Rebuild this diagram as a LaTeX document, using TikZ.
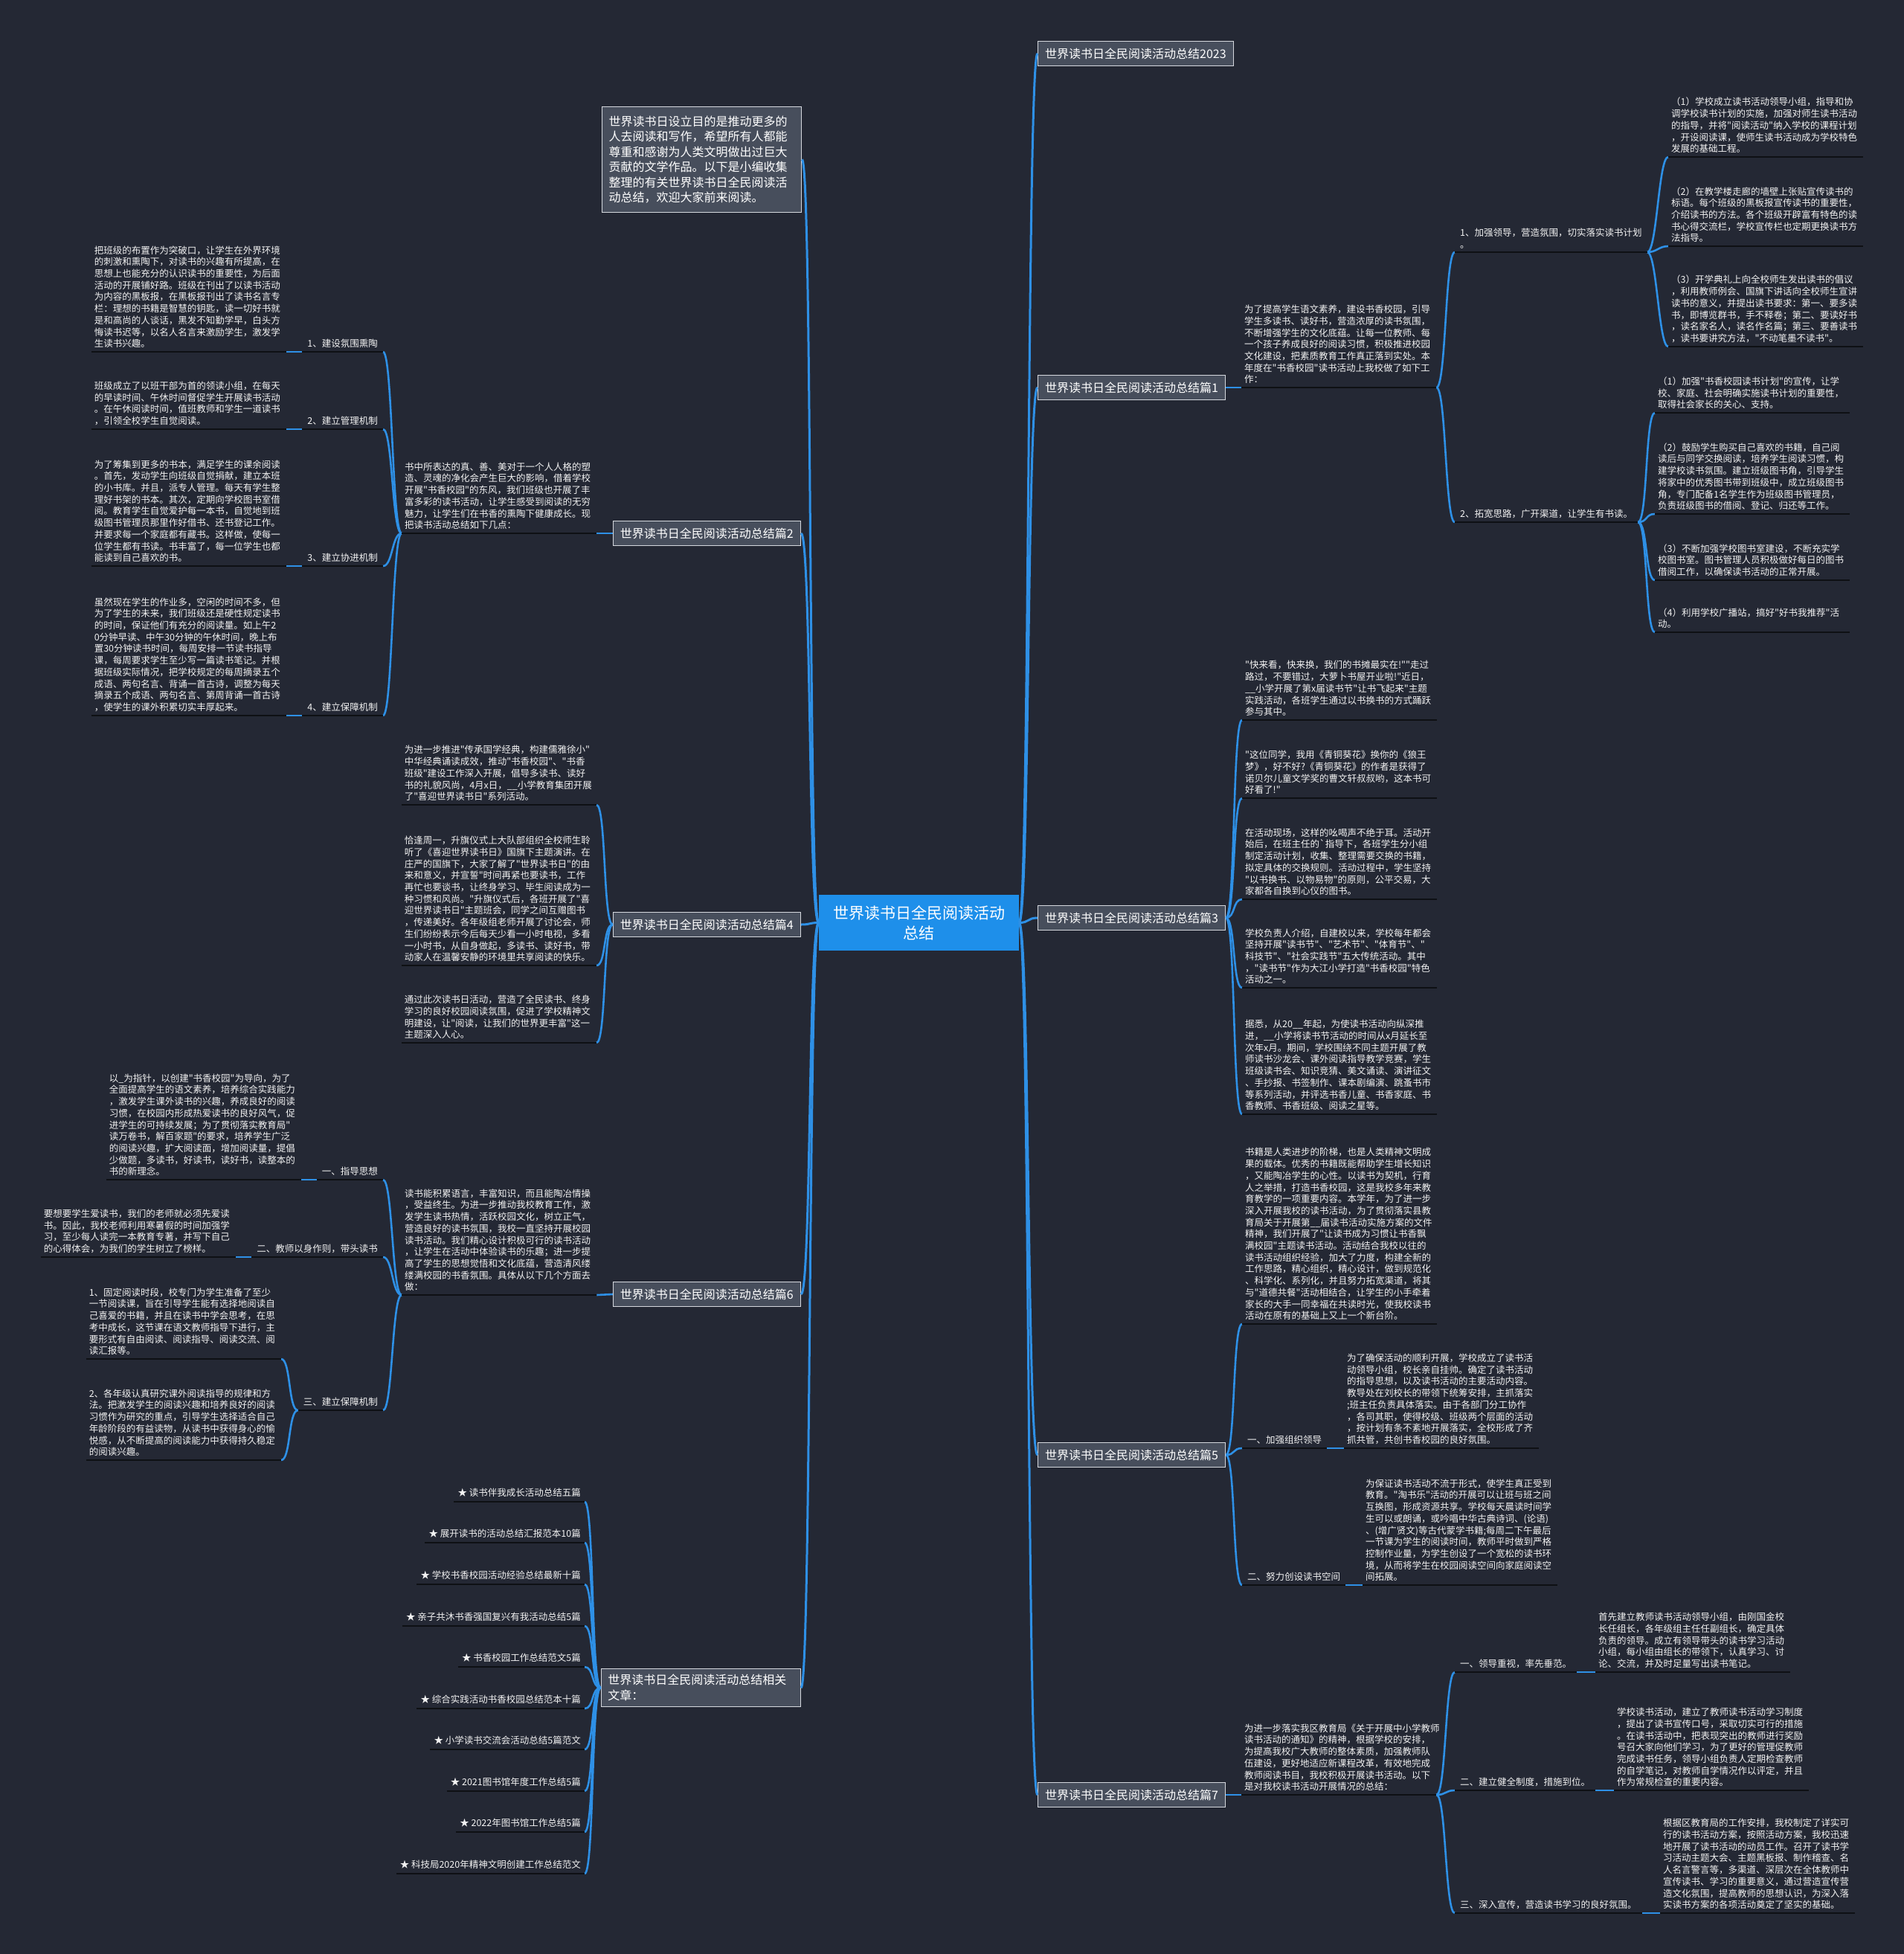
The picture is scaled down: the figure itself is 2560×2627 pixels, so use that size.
\documentclass[tikz,border=0pt]{standalone}
\usepackage{fontspec}
\setmainfont{Noto Sans CJK SC}[Ligatures=TeXOff]
\definecolor{bg}{HTML}{242834}
\definecolor{lnk}{HTML}{2E90E6}
\definecolor{uln}{HTML}{0E1014}
\definecolor{boxf}{HTML}{474E5C}
\definecolor{boxd}{HTML}{D5D8DE}
\definecolor{cen}{HTML}{1E8FEA}
\definecolor{txt}{HTML}{F2F2F2}
\newcommand{\lf}{\fontsize{12.5}{15.7}\selectfont}
\newcommand{\brf}{\fontsize{16}{20.5}\selectfont}
\newcommand{\cf}{\fontsize{21}{27}\selectfont}
\newcommand{\uln}[1]{\draw[uline] (#1.south west) -- (#1.south east);}
\newcommand{\cvr}[2]{\draw[conn] (#1) .. controls +(13,0) and +(-13,0) .. (#2);}
\newcommand{\cvl}[2]{\draw[conn] (#1) .. controls +(-13,0) and +(13,0) .. (#2);}
\tikzset{
 leaf/.style={text=txt, font=\lf, align=left, text width=254pt, inner xsep=4pt, inner ysep=5pt},
 lab/.style={text=txt, font=\lf, align=left, inner xsep=7pt, inner ysep=5pt},
 item/.style={text=txt, font=\lf, inner xsep=5pt, inner ysep=6pt},
 branch/.style={draw=boxd, fill=boxf, line width=1.3pt, text=white, font=\brf, inner xsep=9.5pt, inner ysep=0pt, minimum height=33pt},
 conn/.style={draw=lnk, line width=2.6pt},
 trunk/.style={draw=lnk, line width=3pt},
 uline/.style={draw=uln, line width=2.6pt},
}
\begin{document}
\begin{tikzpicture}[x=1pt,y=-1pt]
\path[use as bounding box, fill=bg] (0,0) rectangle (2560,2627);

% ---------- centre ----------
\node[fill=cen, text=white, font=\cf, align=center, minimum width=269pt, minimum height=75pt, inner sep=0pt] (C) at (1235.5,1240.5) {世界读书日全民阅读活动\\总结};

% ---------- left branches ----------
\node[branch, anchor=north west, align=left, text width=250pt, inner xsep=9pt, inner ysep=12pt] (I) at (809,143) {世界读书日设立目的是推动更多的\\人去阅读和写作，希望所有人都能\\尊重和感谢为人类文明做出过巨大\\贡献的文学作品。以下是小编收集\\整理的有关世界读书日全民阅读活\\动总结，欢迎大家前来阅读。};
\node[branch, anchor=east] (B2) at (1077,717) {世界读书日全民阅读活动总结篇2};
\node[branch, anchor=east] (B4) at (1077,1243) {世界读书日全民阅读活动总结篇4};
\node[branch, anchor=east] (B6) at (1077,1740) {世界读书日全民阅读活动总结篇6};
\node[branch, anchor=east, align=left, text width=250pt, inner xsep=9pt, inner ysep=8pt] (R) at (1077,2269) {世界读书日全民阅读活动总结相关\\文章：};

% ---------- right branches ----------
\node[branch, anchor=west] (B0) at (1395,72) {世界读书日全民阅读活动总结2023};
\node[branch, anchor=west] (B1) at (1395,521) {世界读书日全民阅读活动总结篇1};
\node[branch, anchor=west] (B3) at (1395,1234) {世界读书日全民阅读活动总结篇3};
\node[branch, anchor=west] (B5) at (1395,1956) {世界读书日全民阅读活动总结篇5};
\node[branch, anchor=west] (B7) at (1395,2413) {世界读书日全民阅读活动总结篇7};

% trunk connectors
\foreach \b in {I,B2,B4,B6,R}{\draw[trunk] (C.west) .. controls +(-14,0) and +(14,0) .. (\b.east);}
\foreach \b in {B0,B1,B3,B5,B7}{\draw[trunk] (C.east) .. controls +(14,0) and +(-14,0) .. (\b.west);}

% ================= 篇2 =================
\node[leaf, anchor=south west] (D2) at (540,717) {书中所表达的真、善、美对于一个人人格的塑\\造、灵魂的净化会产生巨大的影响，借着学校\\开展"书香校园"的东风，我们班级也开展了丰\\富多彩的读书活动，让学生感受到阅读的无穷\\魅力，让学生们在书香的熏陶下健康成长。现\\把读书活动总结如下几点：};
\node[lab, anchor=south east] (A1) at (515,473) {1、建设氛围熏陶};
\node[lab, anchor=south east] (A2) at (515,577) {2、建立管理机制};
\node[lab, anchor=south east] (A3) at (515,761) {3、建立协进机制};
\node[lab, anchor=south east] (A4) at (515,962) {4、建立保障机制};
\node[leaf, anchor=south east] (L1) at (385,473) {把班级的布置作为突破口，让学生在外界环境\\的刺激和熏陶下，对读书的兴趣有所提高，在\\思想上也能充分的认识读书的重要性，为后面\\活动的开展铺好路。班级在刊出了以读书活动\\为内容的黑板报，在黑板报刊出了读书名言专\\栏：理想的书籍是智慧的钥匙，读一切好书就\\是和高尚的人谈话，黑发不知勤学早，白头方\\悔读书迟等，以名人名言来激励学生，激发学\\生读书兴趣。};
\node[leaf, anchor=south east] (L2) at (385,577) {班级成立了以班干部为首的领读小组，在每天\\的早读时间、午休时间督促学生开展读书活动\\。在午休阅读时间，值班教师和学生一道读书\\，引领全校学生自觉阅读。};
\node[leaf, anchor=south east] (L3) at (385,761) {为了筹集到更多的书本，满足学生的课余阅读\\。首先，发动学生向班级自觉捐献，建立本班\\的小书库。并且，派专人管理。每天有学生整\\理好书架的书本。其次，定期向学校图书室借\\阅。教育学生自觉爱护每一本书，自觉地到班\\级图书管理员那里作好借书、还书登记工作。\\并要求每一个家庭都有藏书。这样做，使每一\\位学生都有书读。书丰富了，每一位学生也都\\能读到自己喜欢的书。};
\node[leaf, anchor=south east] (L4) at (385,962) {虽然现在学生的作业多，空闲的时间不多，但\\为了学生的未来，我们班级还是硬性规定读书\\的时间，保证他们有充分的阅读量。如上午2\\0分钟早读、中午30分钟的午休时间，晚上布\\置30分钟读书时间，每周安排一节读书指导\\课，每周要求学生至少写一篇读书笔记。并根\\据班级实际情况，把学校规定的每周摘录五个\\成语、两句名言、背诵一首古诗，调整为每天\\摘录五个成语、两句名言、第周背诵一首古诗\\，使学生的课外积累切实丰厚起来。};
\draw[conn] (B2.west) -- (D2.south east);
\foreach \a in {A1,A2,A3,A4}{\cvl{D2.south west}{\a.south east}}
\draw[conn] (L1.south east) -- (A1.south west);
\draw[conn] (L2.south east) -- (A2.south west);
\draw[conn] (L3.south east) -- (A3.south west);
\draw[conn] (L4.south east) -- (A4.south west);
\foreach \n in {D2,A1,A2,A3,A4,L1,L2,L3,L4}{\uln{\n}}

% ================= 篇4 =================
\node[leaf, anchor=south east] (F1) at (802,1082) {为进一步推进"传承国学经典，构建儒雅徐小"\\中华经典诵读成效，推动"书香校园"、"书香\\班级"建设工作深入开展，倡导多读书、读好\\书的礼貌风尚，4月x日，\_\_小学教育集团开展\\了"喜迎世界读书日"系列活动。};
\node[leaf, anchor=south east] (F2) at (802,1298) {恰逢周一，升旗仪式上大队部组织全校师生聆\\听了《喜迎世界读书日》国旗下主题演讲。在\\庄严的国旗下，大家了解了"世界读书日"的由\\来和意义，并宣誓"时间再紧也要读书，工作\\再忙也要谈书，让终身学习、毕生阅读成为一\\种习惯和风尚。"升旗仪式后，各班开展了"喜\\迎世界读书日"主题班会，同学之间互赠图书\\，传递美好。各年级组老师开展了讨论会，师\\生们纷纷表示今后每天少看一小时电视，多看\\一小时书，从自身做起，多读书、读好书，带\\动家人在温馨安静的环境里共享阅读的快乐。};
\node[leaf, anchor=south east] (F3) at (802,1402) {通过此次读书日活动，营造了全民读书、终身\\学习的良好校园阅读氛围，促进了学校精神文\\明建设，让"阅读，让我们的世界更丰富"这一\\主题深入人心。};
\foreach \a in {F1,F2,F3}{\cvl{B4.west}{\a.south east}}
\foreach \n in {F1,F2,F3}{\uln{\n}}

% ================= 篇6 =================
\node[leaf, anchor=south west] (D6) at (540,1741) {读书能积累语言，丰富知识，而且能陶冶情操\\，受益终生。为进一步推动我校教育工作，激\\发学生读书热情，活跃校园文化，树立正气，\\营造良好的读书氛围，我校一直坚持开展校园\\读书活动。我们精心设计积极可行的读书活动\\，让学生在活动中体验读书的乐趣；进一步提\\高了学生的思想觉悟和文化底蕴，营造清风缕\\缕满校园的书香氛围。具体从以下几个方面去\\做：};
\node[lab, anchor=south east] (G1) at (515,1586) {一、指导思想};
\node[lab, anchor=south east] (G2) at (515,1690) {二、教师以身作则，带头读书};
\node[lab, anchor=south east] (G3) at (515,1896) {三、建立保障机制};
\node[leaf, anchor=south east] (H1) at (405,1586) {以\_为指针，以创建"书香校园"为导向，为了\\全面提高学生的语文素养，培养综合实践能力\\，激发学生课外读书的兴趣，养成良好的阅读\\习惯，在校园内形成热爱读书的良好风气，促\\进学生的可持续发展；为了贯彻落实教育局"\\读万卷书，解百家题"的要求，培养学生广泛\\的阅读兴趣，扩大阅读面，增加阅读量，提倡\\少做题，多读书，好读书，读好书，读整本的\\书的新理念。};
\node[leaf, anchor=south east] (H2) at (317,1690) {要想要学生爱读书，我们的老师就必须先爱读\\书。因此，我校老师利用寒暑假的时间加强学\\习，至少每人读完一本教育专著，并写下自己\\的心得体会，为我们的学生树立了榜样。};
\node[leaf, anchor=south east] (H3) at (378,1827) {1、固定阅读时段，校专门为学生准备了至少\\一节阅读课，旨在引导学生能有选择地阅读自\\己喜爱的书籍，并且在读书中学会思考，在思\\考中成长，这节课在语文教师指导下进行，主\\要形式有自由阅读、阅读指导、阅读交流、阅\\读汇报等。};
\node[leaf, anchor=south east] (H4) at (378,1963) {2、各年级认真研究课外阅读指导的规律和方\\法。把激发学生的阅读兴趣和培养良好的阅读\\习惯作为研究的重点，引导学生选择适合自己\\年龄阶段的有益读物，从读书中获得身心的愉\\悦感，从不断提高的阅读能力中获得持久稳定\\的阅读兴趣。};
\draw[conn] (B6.west) -- (D6.south east);
\foreach \a in {G1,G2,G3}{\cvl{D6.south west}{\a.south east}}
\draw[conn] (H1.south east) -- (G1.south west);
\draw[conn] (H2.south east) -- (G2.south west);
\foreach \a in {H3,H4}{\cvl{G3.south west}{\a.south east}}
\foreach \n in {D6,G1,G2,G3,H1,H2,H3,H4}{\uln{\n}}

% ================= 相关文章 =================
\node[item, anchor=south east] (K1) at (786,2019) {★ 读书伴我成长活动总结五篇};
\node[item, anchor=south east] (K2) at (786,2074) {★ 展开读书的活动总结汇报范本10篇};
\node[item, anchor=south east] (K3) at (786,2130) {★ 学校书香校园活动经验总结最新十篇};
\node[item, anchor=south east] (K4) at (786,2186) {★ 亲子共沐书香强国复兴有我活动总结5篇};
\node[item, anchor=south east] (K5) at (786,2241) {★ 书香校园工作总结范文5篇};
\node[item, anchor=south east] (K6) at (786,2297) {★ 综合实践活动书香校园总结范本十篇};
\node[item, anchor=south east] (K7) at (786,2352) {★ 小学读书交流会活动总结5篇范文};
\node[item, anchor=south east] (K8) at (786,2408) {★ 2021图书馆年度工作总结5篇};
\node[item, anchor=south east] (K9) at (786,2463) {★ 2022年图书馆工作总结5篇};
\node[item, anchor=south east] (K10) at (786,2519) {★ 科技局2020年精神文明创建工作总结范文};
\foreach \a in {K1,K2,K3,K4,K5,K6,K7,K8,K9,K10}{\cvl{R.west}{\a.south east}\uln{\a}}

% ================= 篇1 =================
\node[leaf, anchor=south west] (D1) at (1669,521) {为了提高学生语文素养，建设书香校园，引导\\学生多读书、读好书，营造浓厚的读书氛围，\\不断增强学生的文化底蕴。让每一位教师、每\\一个孩子养成良好的阅读习惯，积极推进校园\\文化建设，把素质教育工作真正落到实处。本\\年度在"书香校园"读书活动上我校做了如下工\\作：};
\node[lab, anchor=south west] (P1) at (1956,339) {1、加强领导，营造氛围，切实落实读书计划\\。};
\node[lab, anchor=south west] (P2) at (1956,702) {2、拓宽思路，广开渠道，让学生有书读。};
\node[leaf, anchor=south west] (Q1) at (2243,211) {（1）学校成立读书活动领导小组，指导和协\\调学校读书计划的实施，加强对师生读书活动\\的指导，并将"阅读活动"纳入学校的课程计划\\，开设阅读课，使师生读书活动成为学校特色\\发展的基础工程。};
\node[leaf, anchor=south west] (Q2) at (2243,331) {（2）在教学楼走廊的墙壁上张贴宣传读书的\\标语。每个班级的黑板报宣传读书的重要性，\\介绍读书的方法。各个班级开辟富有特色的读\\书心得交流栏，学校宣传栏也定期更换读书方\\法指导。};
\node[leaf, anchor=south west] (Q3) at (2243,466) {（3）开学典礼上向全校师生发出读书的倡议\\，利用教师例会、国旗下讲话向全校师生宣讲\\读书的意义，并提出读书要求：第一、要多读\\书，即博览群书，手不释卷；第二、要读好书\\，读名家名人，读名作名篇；第三、要善读书\\，读书要讲究方法，"不动笔墨不读书"。};
\node[leaf, anchor=south west] (Q4) at (2225,555) {（1）加强"书香校园读书计划"的宣传，让学\\校、家庭、社会明确实施读书计划的重要性，\\取得社会家长的关心、支持。};
\node[leaf, anchor=south west] (Q5) at (2225,691) {（2）鼓励学生购买自己喜欢的书籍，自己阅\\读后与同学交换阅读，培养学生阅读习惯，构\\建学校读书氛围。建立班级图书角，引导学生\\将家中的优秀图书带到班级中，成立班级图书\\角，专门配备1名学生作为班级图书管理员，\\负责班级图书的借阅、登记、归还等工作。};
\node[leaf, anchor=south west] (Q6) at (2225,780) {（3）不断加强学校图书室建设，不断充实学\\校图书室。图书管理人员积极做好每日的图书\\借阅工作，以确保读书活动的正常开展。};
\node[leaf, anchor=south west] (Q7) at (2225,850) {（4）利用学校广播站，搞好"好书我推荐"活\\动。};
\draw[conn] (B1.east) -- (D1.south west);
\foreach \a in {P1,P2}{\cvr{D1.south east}{\a.south west}}
\foreach \a in {Q1,Q2,Q3}{\cvr{P1.south east}{\a.south west}}
\foreach \a in {Q4,Q5,Q6,Q7}{\cvr{P2.south east}{\a.south west}}
\foreach \n in {D1,P1,P2,Q1,Q2,Q3,Q4,Q5,Q6,Q7}{\uln{\n}}

% ================= 篇3 =================
\node[leaf, anchor=south west] (S1) at (1670,968) {"快来看，快来换，我们的书摊最实在!""走过\\路过，不要错过，大萝卜书屋开业啦!"近日，\\\_\_小学开展了第x届读书节"让书飞起来"主题\\实践活动，各班学生通过以书换书的方式踊跃\\参与其中。};
\node[leaf, anchor=south west] (S2) at (1670,1073) {"这位同学，我用《青铜葵花》换你的《狼王\\梦》，好不好?《青铜葵花》的作者是获得了\\诺贝尔儿童文学奖的曹文轩叔叔哟，这本书可\\好看了!"};
\node[leaf, anchor=south west] (S3) at (1670,1209) {在活动现场，这样的吆喝声不绝于耳。活动开\\始后，在班主任的\textasciigrave 指导下，各班学生分小组\\制定活动计划，收集、整理需要交换的书籍，\\拟定具体的交换规则。活动过程中，学生坚持\\"以书换书、以物易物"的原则，公平交易，大\\家都各自换到心仪的图书。};
\node[leaf, anchor=south west] (S4) at (1670,1328) {学校负责人介绍，自建校以来，学校每年都会\\坚持开展"读书节"、"艺术节"、"体育节"、"\\科技节"、"社会实践节"五大传统活动。其中\\，"读书节"作为大江小学打造"书香校园"特色\\活动之一。};
\node[leaf, anchor=south west] (S5) at (1670,1498) {据悉，从20\_\_年起，为使读书活动向纵深推\\进，\_\_小学将读书节活动的时间从x月延长至\\次年x月。期间，学校围绕不同主题开展了教\\师读书沙龙会、课外阅读指导教学竞赛，学生\\班级读书会、知识竞猜、美文诵读、演讲征文\\、手抄报、书签制作、课本剧编演、跳蚤书市\\等系列活动，并评选书香儿童、书香家庭、书\\香教师、书香班级、阅读之星等。};
\foreach \a in {S1,S2,S3,S4,S5}{\cvr{B3.east}{\a.south west}}
\foreach \n in {S1,S2,S3,S4,S5}{\uln{\n}}

% ================= 篇5 =================
\node[leaf, anchor=south west] (T1) at (1670,1780) {书籍是人类进步的阶梯，也是人类精神文明成\\果的载体。优秀的书籍既能帮助学生增长知识\\，又能陶冶学生的心性。以读书为契机，行育\\人之举措，打造书香校园，这是我校多年来教\\育教学的一项重要内容。本学年，为了进一步\\深入开展我校的读书活动，为了贯彻落实县教\\育局关于开展第\_\_届读书活动实施方案的文件\\精神，我们开展了"让读书成为习惯让书香飘\\满校园"主题读书活动。活动结合我校以往的\\读书活动组织经验，加大了力度，构建全新的\\工作思路，精心组织，精心设计，做到规范化\\、科学化、系列化，并且努力拓宽渠道，将其\\与"道德共餐"活动相结合，让学生的小手牵着\\家长的大手一同幸福在共读时光，使我校读书\\活动在原有的基础上又上一个新台阶。};
\node[lab, anchor=south west] (U1) at (1670,1947) {一、加强组织领导};
\node[lab, anchor=south west] (U2) at (1670,2131) {二、努力创设读书空间};
\node[leaf, anchor=south west] (V1) at (1807,1947) {为了确保活动的顺利开展，学校成立了读书活\\动领导小组，校长亲自挂帅。确定了读书活动\\的指导思想，以及读书活动的主要活动内容。\\教导处在刘校长的带领下统筹安排，主抓落实\\;班主任负责具体落实。由于各部门分工协作\\，各司其职，使得校级、班级两个层面的活动\\，按计划有条不紊地开展落实，全校形成了齐\\抓共管，共创书香校园的良好氛围。};
\node[leaf, anchor=south west] (V2) at (1832,2131) {为保证读书活动不流于形式，使学生真正受到\\教育。"淘书乐"活动的开展可以让班与班之间\\互换图，形成资源共享。学校每天晨读时间学\\生可以或朗诵，或吟唱中华古典诗词、(论语)\\、(增广贤文)等古代蒙学书籍;每周二下午最后\\一节课为学生的阅读时间，教师平时做到严格\\控制作业量，为学生创设了一个宽松的读书环\\境，从而将学生在校园阅读空间向家庭阅读空\\间拓展。};
\foreach \a in {T1,U1,U2}{\cvr{B5.east}{\a.south west}}
\draw[conn] (U1.south east) -- (V1.south west);
\draw[conn] (U2.south east) -- (V2.south west);
\foreach \n in {T1,U1,U2,V1,V2}{\uln{\n}}

% ================= 篇7 =================
\node[leaf, anchor=south west] (D7) at (1669,2413) {为进一步落实我区教育局《关于开展中小学教师\\读书活动的通知》的精神，根据学校的安排，\\为提高我校广大教师的整体素质，加强教师队\\伍建设，更好地适应新课程改革，有效地完成\\教师阅读书目，我校积极开展读书活动。以下\\是对我校读书活动开展情况的总结：};
\node[lab, anchor=south west] (W1) at (1956,2248) {一、领导重视，率先垂范。};
\node[lab, anchor=south west] (W2) at (1956,2407) {二、建立健全制度，措施到位。};
\node[lab, anchor=south west] (W3) at (1956,2572) {三、深入宣传，营造读书学习的良好氛围。};
\node[leaf, anchor=south west] (X1) at (2145,2248) {首先建立教师读书活动领导小组，由刚国金校\\长任组长，各年级组主任任副组长，确定具体\\负责的领导。成立有领导带头的读书学习活动\\小组，每小组由组长的带领下，认真学习、讨\\论、交流，并及时足量写出读书笔记。};
\node[leaf, anchor=south west] (X2) at (2170,2407) {学校读书活动，建立了教师读书活动学习制度\\，提出了读书宣传口号，采取切实可行的措施\\。在读书活动中，把表现突出的教师进行奖励\\号召大家向他们学习，为了更好的管理促教师\\完成读书任务，领导小组负责人定期检查教师\\的自学笔记，对教师自学情况作以评定，并且\\作为常规检查的重要内容。};
\node[leaf, anchor=south west] (X3) at (2232,2572) {根据区教育局的工作安排，我校制定了详实可\\行的读书活动方案，按照活动方案，我校迅速\\地开展了读书活动的动员工作。召开了读书学\\习活动主题大会、主题黑板报、制作稽查、名\\人名言警言等，多渠道、深层次在全体教师中\\宣传读书、学习的重要意义，通过营造宣传营\\造文化氛围，提高教师的思想认识，为深入落\\实读书方案的各项活动奠定了坚实的基础。};
\draw[conn] (B7.east) -- (D7.south west);
\foreach \a in {W1,W2,W3}{\cvr{D7.south east}{\a.south west}}
\draw[conn] (W1.south east) -- (X1.south west);
\draw[conn] (W2.south east) -- (X2.south west);
\draw[conn] (W3.south east) -- (X3.south west);
\foreach \n in {D7,W1,W2,W3,X1,X2,X3}{\uln{\n}}
\end{tikzpicture}
\end{document}
